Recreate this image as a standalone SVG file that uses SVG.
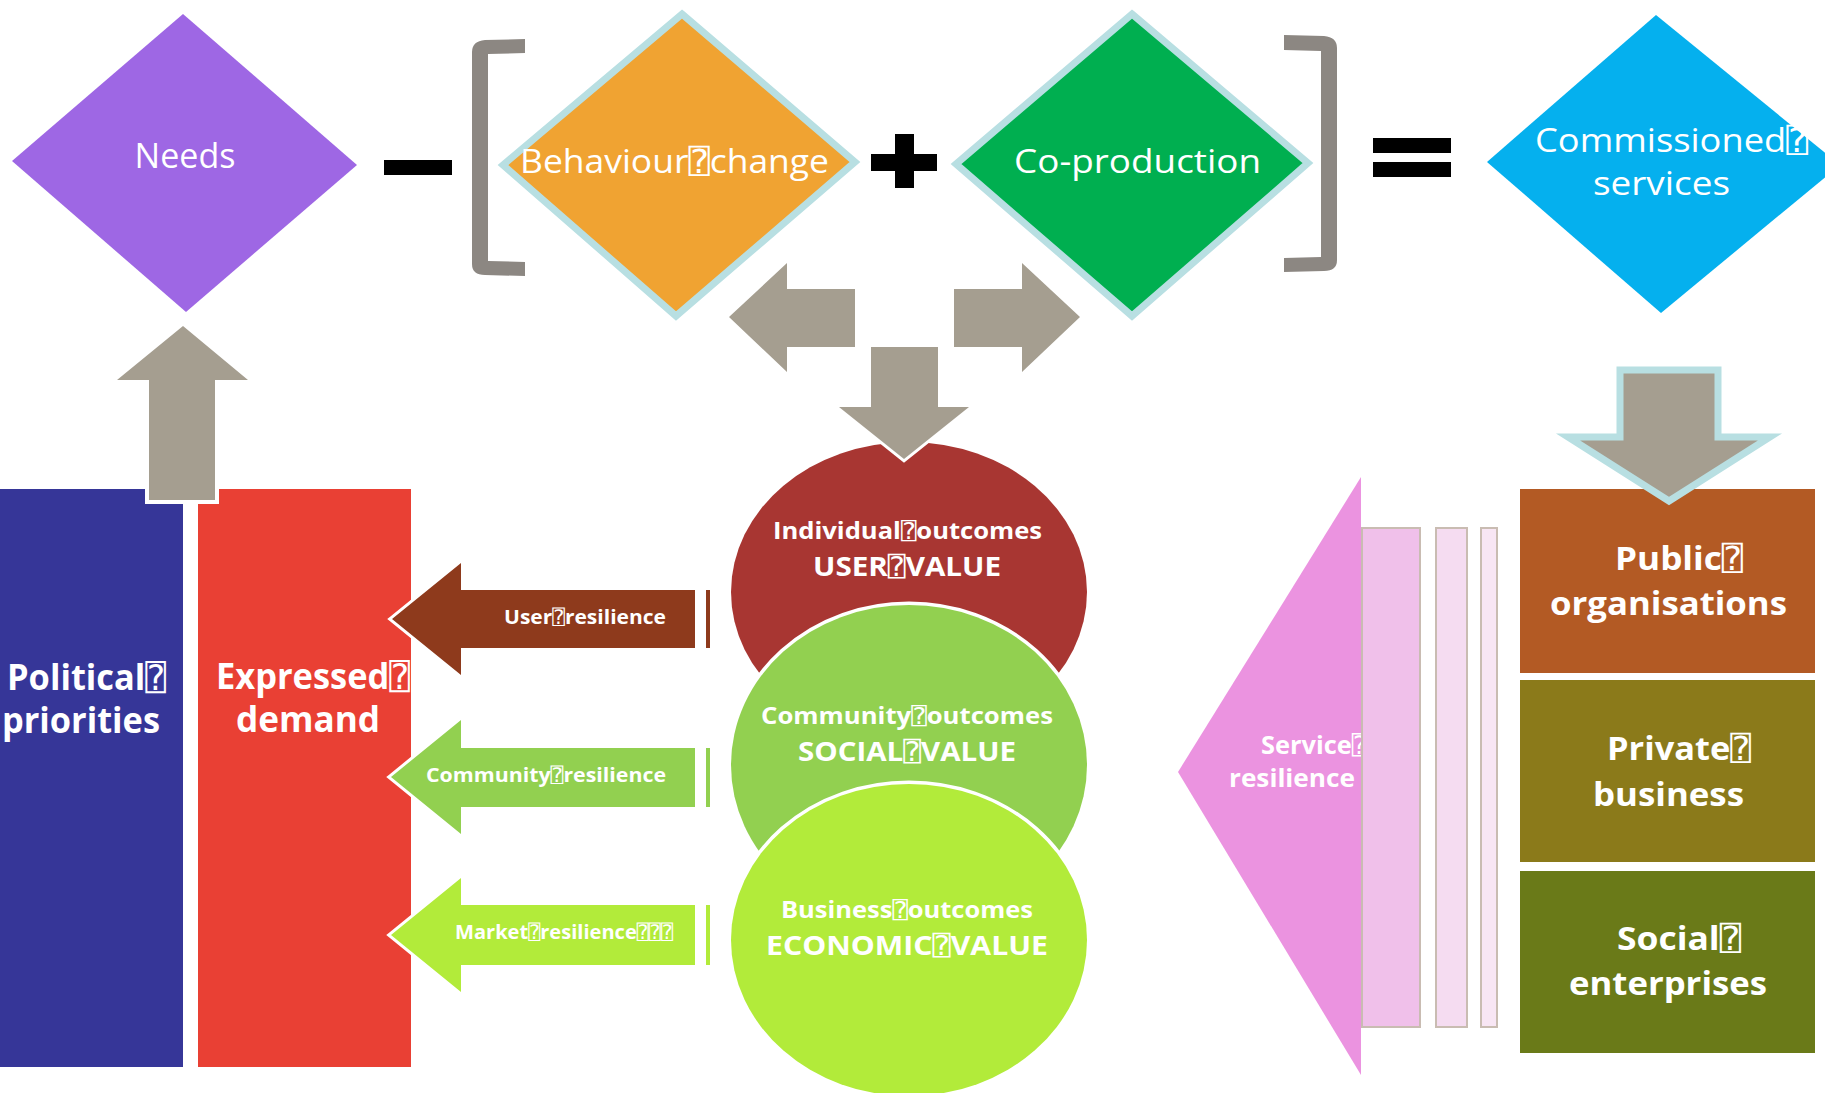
<svg xmlns="http://www.w3.org/2000/svg" width="1825" height="1093" viewBox="0 0 1825 1093">
  <defs>
    <style>
      .lbl { font-family: "Open Sans", "DejaVu Sans", sans-serif; fill: #ffffff; }
      .reg { font-weight: 400; }
      .bold { font-weight: 700; }
      .q { font-family: "DejaVu Sans Mono", "DejaVu Sans", monospace; font-weight: 400; }
      .gray-arrow { fill: #A59E90; stroke: #ffffff; stroke-width: 6; stroke-linejoin: miter; paint-order: stroke; }
      .op { fill: #000000; }
      .bracket { fill: #8C8782; }
      .framed { stroke: #B8DFE2; stroke-width: 7; stroke-linejoin: miter; }
      .res-arrow { stroke: #ffffff; stroke-width: 6; stroke-linejoin: miter; paint-order: stroke; }
      .outcome { stroke: #ffffff; stroke-width: 7; paint-order: stroke; }
      .bar { fill: #F0C0EA; stroke: #C9BCB2; stroke-width: 2; }
    </style>
  </defs>

  <rect width="1825" height="1093" fill="#ffffff"/>

  <!-- equation row -->
  <g id="needs">
    <polygon points="183,14 357,165 186,312 12,161" fill="#9E67E4"/>
    <text class="lbl reg" x="185" y="168" font-size="34" text-anchor="middle">Needs</text>
  </g>

  <g id="operators">
    <rect class="op" x="384" y="160" width="68" height="15"/>
    <path class="bracket" d="M525,39 L485,40 Q472,41 472,52 L472,264 Q472,275 485,275 L525,276 L525,262 L488,261 L488,54 L525,53 Z"/>
    <rect class="op" x="895" y="134" width="19" height="54"/>
    <rect class="op" x="871" y="154" width="66" height="17"/>
    <path class="bracket" d="M1284,35 L1324,36 Q1337,37 1337,48 L1337,260 Q1337,271 1324,271 L1284,272 L1284,258 L1321,257 L1321,51 L1284,50 Z"/>
    <rect class="op" x="1373" y="138" width="78" height="15"/>
    <rect class="op" x="1373" y="162" width="78" height="15"/>
  </g>

  <g id="behaviour-change">
    <polygon class="framed" points="682,14 855,162 676,316 503,165" fill="#F0A332"/>
    <text class="lbl reg" x="520" y="173" font-size="33" textLength="309" lengthAdjust="spacingAndGlyphs">Behaviour<tspan class="q">⍰</tspan>change</text>
  </g>

  <g id="co-production">
    <polygon class="framed" points="1132,14 1308,163 1132,316 956,164" fill="#00AF50"/>
    <text class="lbl reg" x="1014" y="173" font-size="33" textLength="247" lengthAdjust="spacingAndGlyphs">Co-production</text>
  </g>

  <g id="commissioned-services">
    <polygon points="1656,15 1840,165 1661,313 1487,162" fill="#05B0EE"/>
    <text class="lbl reg" x="1535" y="152" font-size="33" textLength="273" lengthAdjust="spacingAndGlyphs">Commissioned<tspan class="q">⍰</tspan></text>
    <text class="lbl reg" x="1593" y="195" font-size="33" textLength="137" lengthAdjust="spacingAndGlyphs">services</text>
  </g>

  <!-- left columns -->
  <g id="political-priorities">
    <rect x="0" y="489" width="183" height="578" fill="#363698"/>
    <text class="lbl bold" x="7" y="690" font-size="35" textLength="159" lengthAdjust="spacingAndGlyphs">Political<tspan class="q">⍰</tspan></text>
    <text class="lbl bold" x="2" y="733" font-size="35" textLength="158" lengthAdjust="spacingAndGlyphs">priorities</text>
  </g>

  <g id="expressed-demand">
    <rect x="198" y="489" width="213" height="578" fill="#E94034"/>
    <text class="lbl bold" x="216" y="689" font-size="35" textLength="194" lengthAdjust="spacingAndGlyphs">Expressed<tspan class="q">⍰</tspan></text>
    <text class="lbl bold" x="236" y="732" font-size="35" textLength="144" lengthAdjust="spacingAndGlyphs">demand</text>
  </g>

  <!-- outcome ellipses -->
  <g id="user-value">
    <ellipse class="outcome" cx="909" cy="592" rx="178" ry="150" fill="#A83632"/>
    <text class="lbl bold" x="773" y="539" font-size="23" textLength="269" lengthAdjust="spacingAndGlyphs">Individual<tspan class="q">⍰</tspan>outcomes</text>
    <text class="lbl bold" x="813" y="576" font-size="27" textLength="188" lengthAdjust="spacingAndGlyphs">USER<tspan class="q">⍰</tspan>VALUE</text>
  </g>

  <g id="social-value">
    <ellipse class="outcome" cx="909" cy="765" rx="178" ry="160" fill="#92D050"/>
    <text class="lbl bold" x="761" y="724" font-size="23" textLength="292" lengthAdjust="spacingAndGlyphs">Community<tspan class="q">⍰</tspan>outcomes</text>
    <text class="lbl bold" x="798" y="761" font-size="27" textLength="218" lengthAdjust="spacingAndGlyphs">SOCIAL<tspan class="q">⍰</tspan>VALUE</text>
  </g>

  <g id="economic-value">
    <ellipse class="outcome" cx="909" cy="940" rx="178" ry="156" fill="#B2EB3A"/>
    <text class="lbl bold" x="781" y="918" font-size="23" textLength="252" lengthAdjust="spacingAndGlyphs">Business<tspan class="q">⍰</tspan>outcomes</text>
    <text class="lbl bold" x="766" y="955" font-size="27" textLength="282" lengthAdjust="spacingAndGlyphs">ECONOMIC<tspan class="q">⍰</tspan>VALUE</text>
  </g>

  <!-- service resilience fan -->
  <g id="service-resilience">
    <polygon points="1361,477 1361,1075 1178,772" fill="#EB93E0"/>
    <text class="lbl bold" x="1261" y="754" font-size="25" textLength="106" lengthAdjust="spacingAndGlyphs">Service<tspan class="q">⍰</tspan></text>
    <text class="lbl bold" x="1229" y="787" font-size="25" textLength="126" lengthAdjust="spacingAndGlyphs">resilience</text>
    <rect class="bar" x="1362" y="528" width="58" height="499"/>
    <rect class="bar" x="1436" y="528" width="31" height="499" style="fill:#F5DCF1"/>
    <rect class="bar" x="1481" y="528" width="16" height="499" style="fill:#F8E6F4"/>
  </g>

  <!-- provider boxes -->
  <g id="public-organisations">
    <rect x="1520" y="489" width="295" height="184" fill="#B35A24"/>
    <text class="lbl bold" x="1615" y="570" font-size="33" textLength="128" lengthAdjust="spacingAndGlyphs">Public<tspan class="q">⍰</tspan></text>
    <text class="lbl bold" x="1550" y="615" font-size="33" textLength="237" lengthAdjust="spacingAndGlyphs">organisations</text>
  </g>

  <g id="private-business">
    <rect x="1520" y="680" width="295" height="182" fill="#8B7A1A"/>
    <text class="lbl bold" x="1607" y="760" font-size="33" textLength="144" lengthAdjust="spacingAndGlyphs">Private<tspan class="q">⍰</tspan></text>
    <text class="lbl bold" x="1593" y="806" font-size="33" textLength="151" lengthAdjust="spacingAndGlyphs">business</text>
  </g>

  <g id="social-enterprises">
    <rect x="1520" y="871" width="295" height="182" fill="#6A7A18"/>
    <text class="lbl bold" x="1617" y="950" font-size="33" textLength="124" lengthAdjust="spacingAndGlyphs">Social<tspan class="q">⍰</tspan></text>
    <text class="lbl bold" x="1569" y="995" font-size="33" textLength="198" lengthAdjust="spacingAndGlyphs">enterprises</text>
  </g>

  <!-- connectors -->
  <g id="connectors">
    <!-- from the bracket down to the outcomes and out to the sides -->
    <polygon class="gray-arrow" points="729,317 787,263 787,289 855,289 855,347 787,347 787,372"/>
    <polygon class="gray-arrow" points="1080,317 1022,263 1022,289 954,289 954,347 1022,347 1022,372"/>
    <polygon class="gray-arrow" points="871,347 938,347 938,407 969,407 904,459 839,407 871,407"/>
    <!-- priorities and demand up to needs -->
    <polygon class="gray-arrow" style="stroke-width:8" points="183,326 248,380 215,380 215,500 149,500 149,380 117,380"/>
    <!-- commissioned services down to providers -->
    <polygon class="framed" fill="#A59E90" points="1620,370 1718,370 1718,437 1770,437 1669,501 1568,437 1620,437"/>

    <!-- resilience arrows into expressed demand -->
    <g id="user-resilience">
      <polygon class="res-arrow" fill="#8E3A1C" points="392,619 461,563 461,590 695,590 695,648 461,648 461,675"/>
      <rect x="706" y="590" width="4" height="58" fill="#8E3A1C"/>
      <text class="lbl bold" x="504" y="624" font-size="20" textLength="162" lengthAdjust="spacingAndGlyphs">User<tspan class="q">⍰</tspan>resilience</text>
    </g>
    <g id="community-resilience">
      <polygon class="res-arrow" fill="#92D050" points="391,777 461,720 461,748 695,748 695,807 461,807 461,834"/>
      <rect x="706" y="748" width="4" height="59" fill="#92D050"/>
      <text class="lbl bold" x="426" y="782" font-size="20" textLength="240" lengthAdjust="spacingAndGlyphs">Community<tspan class="q">⍰</tspan>resilience</text>
    </g>
    <g id="market-resilience">
      <polygon class="res-arrow" fill="#B2EB3A" points="391,935 461,878 461,905 695,905 695,965 461,965 461,992"/>
      <rect x="706" y="905" width="4" height="60" fill="#B2EB3A"/>
      <text class="lbl bold" x="455" y="939" font-size="20" textLength="218" lengthAdjust="spacingAndGlyphs">Market<tspan class="q">⍰</tspan>resilience<tspan class="q">⍰⍰⍰</tspan></text>
    </g>
  </g>
</svg>
